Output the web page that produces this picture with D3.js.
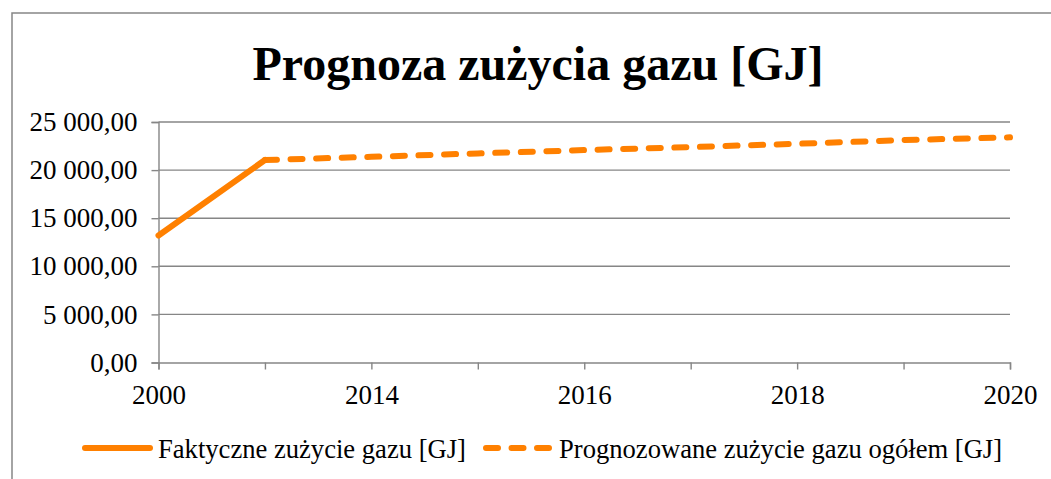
<!DOCTYPE html>
<html>
<head>
<meta charset="utf-8">
<script src="https://cdn.jsdelivr.net/npm/d3@7"></script>
<style>
	body { margin: 0; background: #fff; }
</style>
</head>
<body>
<script>
// categories on the x axis (only every second one gets a label)
var years = ["2000", "2013", "2014", "2015", "2016", "2017", "2018", "2019", "2020"];
var labelled_years = ["2000", "2014", "2016", "2018", "2020"];

// series values [GJ], null where the series has no point
var actual_use = [13200, 21050, null, null, null, null, null, null, null];
var forecast_use = [null, 21050, 21380, 21735, 22080, 22393, 22737, 23123, 23404];

// y axis ticks
var y_ticks = [0, 5000, 10000, 15000, 20000, 25000];

var title_text = "Prognoza zużycia gazu [GJ]";
var legend_titles = ["Faktyczne zużycie gazu [GJ]", "Prognozowane zużycie gazu ogółem [GJ]"];

var width = 1051, height = 479;
var orange = "#ff8000", grid = "#868686";
var serif = "'Liberation Serif', 'DejaVu Serif', serif";

// polish number format: 25 000,00
var pl = d3.formatLocale({decimal: ",", thousands: "\u00a0", grouping: [3], currency: ["", " zł"]});
var fmt = pl.format(",.2f");

var svg = d3.select("body").append("svg")
	.attr("width", width)
	.attr("height", height)
	.style("font-family", serif);

// chart frame, runs off the right and bottom edge
svg.append("rect")
	.attr("x", 12).attr("y", 13)
	.attr("width", width + 20).attr("height", height + 20)
	.attr("fill", "none")
	.attr("stroke", grid)
	.attr("stroke-width", 1.5);

// title
svg.append("text")
	.attr("x", 538)
	.attr("y", 80)
	.attr("text-anchor", "middle")
	.style("font-family", serif)
	.attr("font-size", 48)
	.attr("font-weight", "bold")
	.text(title_text);

// scales
var x = d3.scalePoint().domain(years).range([158.5, 1010]);
var y = d3.scaleLinear().domain([0, 25000]).range([362.5, 122]);

// horizontal gridlines
svg.append("g")
	.selectAll("line")
	.data(y_ticks.slice(1))
	.enter().append("line")
	.attr("x1", x.range()[0]).attr("x2", x.range()[1])
	.attr("y1", function(d) { return y(d); })
	.attr("y2", function(d) { return y(d); })
	.attr("stroke", grid)
	.attr("stroke-width", 1.4);

// y axis
var y_axis = svg.append("g")
	.attr("transform", "translate(" + x.range()[0] + ",0)")
	.call(d3.axisLeft(y).tickValues(y_ticks).tickFormat(fmt).tickSize(7).tickPadding(14));
y_axis.attr("font-family", null).attr("font-size", 27);
y_axis.select(".domain").attr("stroke", grid).attr("stroke-width", 1.4);
y_axis.selectAll(".tick line").attr("stroke", grid).attr("stroke-width", 1.4);
y_axis.selectAll("text").attr("fill", "#000").style("font-family", serif);

// x axis
var x_axis = svg.append("g")
	.attr("transform", "translate(0," + y(0) + ")")
	.call(d3.axisBottom(x).tickSize(7).tickPadding(15)
		.tickFormat(function(d) { return labelled_years.indexOf(d) >= 0 ? d : ""; }));
x_axis.attr("font-family", null).attr("font-size", 27);
x_axis.select(".domain").attr("stroke", grid).attr("stroke-width", 1.4);
x_axis.selectAll(".tick line").attr("stroke", grid).attr("stroke-width", 1.4);
x_axis.selectAll("text").attr("fill", "#000").style("font-family", serif);

// the two lines
function make_line(values) {
	return d3.line()
		.defined(function(d) { return d != null; })
		.x(function(d, i) { return x(years[i]); })
		.y(function(d) { return y(d); })(values);
}

svg.append("path")
	.attr("d", make_line(actual_use))
	.attr("fill", "none")
	.attr("stroke", orange)
	.attr("stroke-width", 6)
	.attr("stroke-linecap", "round")
	.attr("stroke-linejoin", "round");

svg.append("path")
	.attr("d", make_line(forecast_use))
	.attr("fill", "none")
	.attr("stroke", orange)
	.attr("stroke-width", 6)
	.attr("stroke-linecap", "round")
	.attr("stroke-dasharray", "12,13.6");

// legend
var legend_marks = [{x1: 85, x2: 150, tx: 158, dash: null},
	{x1: 486, x2: 549, tx: 559, dash: "12,13.5"}];
for (var i = 0; i < 2; i++) {
	svg.append("line")
		.attr("x1", legend_marks[i].x1).attr("x2", legend_marks[i].x2)
		.attr("y1", 448).attr("y2", 448)
		.attr("stroke", orange)
		.attr("stroke-width", 6)
		.attr("stroke-linecap", "round")
		.attr("stroke-dasharray", legend_marks[i].dash);
	svg.append("text")
		.attr("x", legend_marks[i].tx)
		.attr("y", 458)
		.attr("font-size", 26.6)
		.style("font-family", serif)
		.text(legend_titles[i]);
}
</script>
</body>
</html>
